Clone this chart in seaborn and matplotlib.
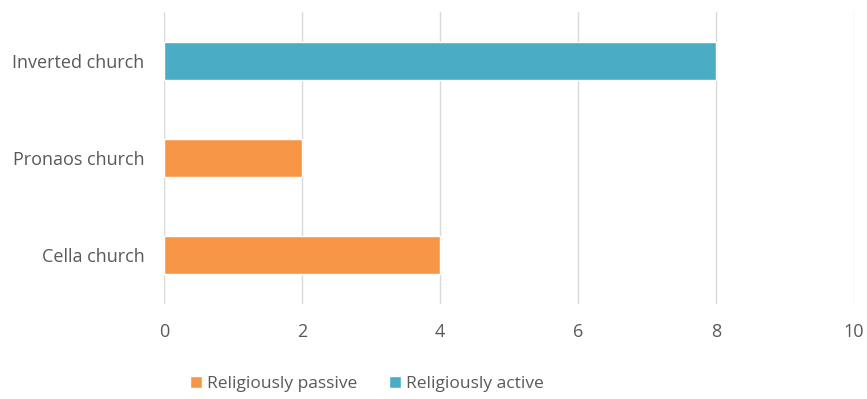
import matplotlib
matplotlib.use("Agg")
import matplotlib.pyplot as plt
import seaborn as sns
import pandas as pd
from matplotlib.patches import Patch

categories = ["Inverted church", "Pronaos church", "Cella church"]
values = [8, 2, 4]
groups = ["Religiously active", "Religiously passive", "Religiously passive"]
legend_order = ["Religiously passive", "Religiously active"]
xticks = [0, 2, 4, 6, 8, 10]

palette = {"Religiously passive": "#F79646", "Religiously active": "#4BACC6"}

df = pd.DataFrame({"category": categories, "value": values, "group": groups})

sns.set_style("white")
plt.rcParams["font.family"] = ["Open Sans", "DejaVu Sans"]

fig = plt.figure(figsize=(8.67, 3.99), dpi=100)
ax = fig.add_axes([164/867, 1-304/399, (854-164)/867, (304-12)/399])

sns.barplot(data=df, y="category", x="value", hue="group", palette=palette,
            order=categories, dodge=False, width=0.39, ax=ax, legend=False,
            saturation=1, zorder=3)

ax.set_xlim(0, 10)
ax.set_xticks(xticks)
ax.set_xticklabels([str(t) for t in xticks])
ax.set_xlabel("")
ax.set_ylabel("")
ax.grid(axis="x", color="#D9D9D9", linewidth=1, zorder=0)
ax.set_axisbelow(True)
for s in ax.spines.values():
    s.set_visible(False)
ax.tick_params(axis="x", length=0, pad=14, labelsize=13, labelcolor="#595959")
ax.tick_params(axis="y", length=0, pad=14, labelsize=13, labelcolor="#595959")

handles = [Patch(facecolor=palette[g], label=g) for g in legend_order]
fig.legend(handles=handles, loc="center", bbox_to_anchor=(367/867, 1-384/399),
           ncol=2, frameon=False, fontsize=12.5, handlelength=0.7, handleheight=0.7,
           handletextpad=0.3, columnspacing=1.8, labelcolor="#595959")

fig.savefig("out.png", dpi=100)
